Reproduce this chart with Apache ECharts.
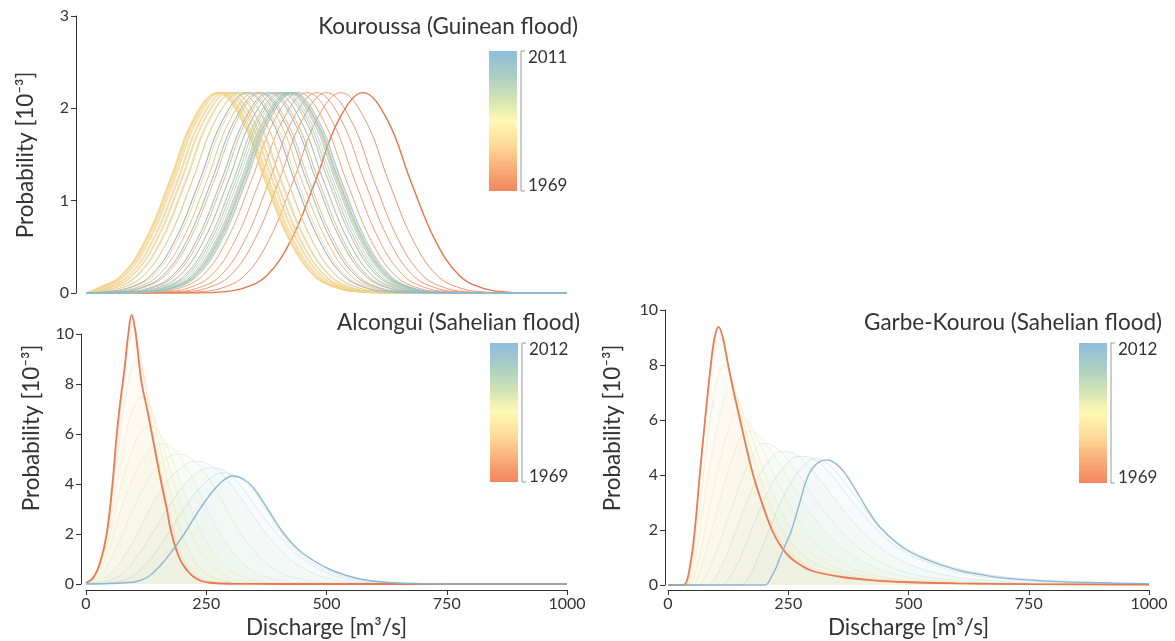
<!DOCTYPE html>
<html lang="en">
<head>
<meta charset="UTF-8">
<title>Flood discharge distributions</title>
<script src="https://cdn.jsdelivr.net/npm/echarts@6.0.0/dist/echarts.min.js"></script>
<style>
  html,body{margin:0;padding:0;background:#fff;}
  #chart{width:1175px;height:641px;}
</style>
</head>
<body>
<div id="chart"></div>
<script>
// ---- Kouroussa: every year has the same bell shape, only the peak moves
// offsets from the peak (m3/s) and probability
let kouOffsets=[-700,-600,-500,-400,-300,-200,-100,0,100,200,300,400,500,600,700];
let kouProfile=[0,0.01,0.05,0.19,0.57,1.2,1.88,2.17,1.88,1.2,0.57,0.19,0.05,0.01,0];
// peak discharge per year, 1969 -> 2011
let kouPeaks=[1152,1060,1000,960,920,885,850,810,770,730,700,
              670,640,615,595,580,565,555,548,545,550,
              560,575,590,610,640,680,720,760,790,810,
              830,845,855,862,865,855,840,820,790,760,
              720,670];
let kouFirst=1969, kouLast=2011;

// ---- Alcongui curves [discharge, probability 10^-3]
let alc1969=[[0,0.05],[15,0.25],[30,0.9],[43,2],[55,4],[64,6],[72,7.4],[80,8.6],[88,10],[95,10.76],[102,10.2],[110,8.9],[116,8],[127,7],[137,6],[147,5],[157,4],[168,3],[178,2],[195,1],[210,0.55],[223,0.3],[240,0.12],[257,0.05],[300,0.01],[400,0],[1000,0]];
let alc1984=[[0,0.05],[15,0.25],[30,0.9],[45,2.2],[60,4.6],[75,7.4],[90,9.7],[100,10.1],[110,9.4],[122,8.1],[137,6.3],[157,4.3],[178,2.4],[200,1.1],[225,0.4],[260,0.1],[320,0.02],[1000,0]];
let alc1988=[[0,0.05],[15,0.25],[30,0.9],[45,2.2],[60,4.3],[80,7.2],[95,8.6],[108,9.0],[120,8.4],[135,7.0],[150,5.8],[170,4.1],[190,2.6],[215,1.3],[245,0.5],[290,0.12],[350,0.02],[1000,0]];
let alc1991=[[0,0.05],[15,0.25],[30,0.85],[45,2.0],[65,4.1],[85,6.2],[105,7.3],[120,7.5],[135,7.1],[150,6.2],[170,4.9],[195,3.3],[220,2.0],[250,1.0],[290,0.35],[340,0.08],[420,0.01],[1000,0]];
let alc1994=[[0,0.05],[15,0.25],[30,0.8],[50,2.0],[70,3.7],[95,5.3],[115,6.1],[135,6.3],[155,6.0],[175,5.2],[200,3.9],[230,2.5],[260,1.4],[300,0.55],[350,0.15],[420,0.03],[1000,0]];
let alc1997=[[0,0.04],[20,0.3],[40,1.0],[65,2.5],[90,3.9],[115,4.9],[140,5.45],[160,5.6],[180,5.45],[205,4.8],[235,3.7],[265,2.5],[300,1.4],[340,0.6],[390,0.2],[460,0.04],[1000,0]];
let alc2000=[[0,0.03],[25,0.25],[50,0.9],[80,2.2],[110,3.5],[140,4.5],[165,5.0],[190,5.2],[215,5.05],[245,4.5],[275,3.6],[310,2.4],[350,1.3],[400,0.5],[460,0.15],[530,0.03],[1000,0]];
let alc2003=[[0,0.02],[30,0.15],[60,0.6],[95,1.6],[130,2.9],[165,4.0],[195,4.6],[225,4.9],[255,4.8],[285,4.35],[320,3.5],[360,2.4],[400,1.45],[450,0.65],[510,0.2],[580,0.04],[1000,0]];
let alc2006=[[0,0.01],[40,0.1],[75,0.4],[110,1.2],[150,2.4],[190,3.6],[225,4.35],[258,4.65],[290,4.5],[325,3.85],[360,2.9],[400,1.95],[445,1.1],[500,0.45],[560,0.13],[630,0.03],[1000,0]];
let alc2009=[[0,0],[50,0.05],[85,0.2],[120,0.7],[160,1.7],[200,2.9],[240,3.9],[285,4.45],[315,4.3],[345,3.8],[375,2.95],[410,1.95],[450,1.15],[500,0.55],[560,0.2],[630,0.05],[700,0.01],[1000,0]];
let alc2012=[[0,0],[50,0.02],[80,0.05],[105,0.1],[130,0.3],[155,0.75],[180,1.35],[204,2],[230,2.8],[255,3.5],[280,4.05],[305,4.32],[327,4.2],[348,3.85],[376,3.05],[410,2.05],[440,1.4],[472,0.95],[505,0.6],[540,0.35],[570,0.2],[600,0.11],[640,0.05],[680,0.02],[750,0],[1000,0]];
let alcYears=[1969,1984,1988,1991,1994,1997,2000,2003,2006,2009,2012];
let alcCurves=[alc1969,alc1984,alc1988,alc1991,alc1994,alc1997,alc2000,alc2003,alc2006,alc2009,alc2012];

// ---- Garbe-Kourou curves
let gar1969=[[0,0],[30,0],[38,0.1],[45,0.6],[52,1.4],[58,2.4],[66,4],[77,6],[89,8],[97,9.0],[105,9.39],[114,9.0],[125,8],[137,7],[150,6],[163,5],[177,4],[195,3],[216,2],[235,1.4],[254,1],[278,0.7],[302,0.5],[358,0.3],[420,0.18],[500,0.1],[600,0.06],[750,0.03],[1000,0.01]];
let gar1984=[[0,0],[36,0],[44,0.5],[55,2.0],[67,4.1],[80,6.4],[93,8.2],[107,9.0],[120,8.4],[135,7.1],[150,5.9],[170,4.5],[195,3.1],[225,1.9],[260,1.1],[310,0.55],[380,0.28],[480,0.12],[600,0.06],[800,0.02],[1000,0.01]];
let gar1988=[[0,0],[38,0],[46,0.4],[58,1.8],[72,3.8],[87,5.9],[100,7.3],[115,8.0],[130,7.6],[145,6.7],[165,5.4],[190,4.0],[220,2.6],[255,1.55],[300,0.85],[370,0.38],[470,0.15],[600,0.06],[800,0.02],[1000,0.01]];
let gar1991=[[0,0],[40,0],[50,0.4],[64,1.7],[80,3.6],[97,5.3],[112,6.5],[125,7.0],[140,6.85],[158,6.2],[180,5.1],[205,3.9],[235,2.7],[270,1.7],[320,0.9],[390,0.4],[490,0.15],[620,0.06],[800,0.02],[1000,0.01]];
let gar1994=[[0,0],[44,0],[55,0.35],[72,1.6],[92,3.3],[112,4.8],[128,5.8],[140,6.2],[157,6.1],[178,5.6],[205,4.6],[235,3.5],[270,2.4],[310,1.5],[360,0.8],[430,0.35],[530,0.13],[680,0.05],[1000,0.01]];
let gar1997=[[0,0],[50,0],[62,0.3],[82,1.4],[105,2.9],[128,4.3],[147,5.2],[162,5.6],[180,5.55],[205,5.1],[235,4.3],[270,3.3],[310,2.3],[355,1.45],[410,0.8],[480,0.35],[580,0.13],[720,0.05],[1000,0.01]];
let gar2000=[[0,0],[60,0],[75,0.25],[100,1.2],[128,2.6],[155,3.9],[177,4.75],[195,5.15],[215,5.1],[240,4.75],[270,4.05],[305,3.15],[345,2.25],[390,1.45],[445,0.8],[520,0.35],[620,0.14],[760,0.05],[1000,0.02]];
let gar2003=[[0,0],[80,0],[96,0.2],[122,1.1],[150,2.4],[178,3.6],[205,4.4],[235,4.85],[258,4.8],[285,4.45],[315,3.85],[350,3.05],[390,2.2],[435,1.45],[490,0.85],[560,0.42],[660,0.17],[800,0.07],[1000,0.03]];
let gar2006=[[0,0],[110,0],[125,0.2],[150,1.0],[178,2.2],[205,3.3],[235,4.15],[272,4.68],[300,4.6],[330,4.2],[360,3.55],[395,2.8],[435,2.0],[480,1.35],[540,0.82],[620,0.4],[720,0.19],[850,0.09],[1000,0.04]];
let gar2009=[[0,0],[150,0],[165,0.2],[185,0.9],[210,2.0],[235,3.05],[262,3.9],[285,4.4],[303,4.6],[325,4.5],[350,4.1],[380,3.45],[410,2.75],[445,2.0],[490,1.4],[550,0.9],[620,0.52],[720,0.26],[850,0.12],[1000,0.05]];
let gar2012=[[0,0],[200,0],[207,0.05],[215,0.3],[224,0.6],[233,1],[245,1.5],[257,2],[274,3],[292,4],[310,4.42],[331,4.55],[348,4.42],[364,4.15],[380,3.75],[399,3.2],[420,2.6],[441,2.1],[485,1.4],[530,0.98],[600,0.55],[650,0.38],[700,0.25],[800,0.13],[900,0.08],[1000,0.05]];
let garYears=[1969,1984,1988,1991,1994,1997,2000,2003,2006,2009,2012];
let garCurves=[gar1969,gar1984,gar1988,gar1991,gar1994,gar1997,gar2000,gar2003,gar2006,gar2009,gar2012];

// colour ramp, oldest -> newest
let barColors=['#f4855c','#f9ae77','#fddb9a','#fff9b3','#cfe3b3','#a9cdc6','#8fbddd'];
let lineColors=['#e8734b','#f09a66','#f4bf80','#f1d67e','#c9dca4','#9fc7bf','#88b3d0'];

let FONT='Lato, "Open Sans", sans-serif';
let TXT='#333';

let chart=echarts.init(document.getElementById('chart'),null,{renderer:'canvas'});

function colorOf(year,y0,y1){
    return echarts.color.lerp((year-y0)/(y1-y0),lineColors);
}

let series=[];

// Kouroussa
kouPeaks.forEach(function(pk,i){
    let yr=kouFirst+i;
    let pts=kouOffsets.map(function(o,j){return [pk+o,kouProfile[j]];})
        .filter(function(p){return p[0]>=0&&p[0]<=2000;});
    pts.unshift([0,0]);
    pts.push([2000,0]);
    series.push({
        type:'line',xAxisIndex:0,yAxisIndex:0,
        data:pts,smooth:0.4,showSymbol:false,silent:true,
        lineStyle:{width:yr===kouFirst?1.4:1,color:colorOf(yr,kouFirst,kouLast),opacity:yr===kouFirst?1:0.8}
    });
});

// Sahelian stations
function addPanel(curves,years,idx){
    let y0=years[0],y1=years[years.length-1];
    curves.forEach(function(c,i){
        let yr=years[i];
        let edge=(yr===y0||yr===y1);
        series.push({
            type:'line',xAxisIndex:idx,yAxisIndex:idx,
            data:c,smooth:0.4,showSymbol:false,silent:true,clip:false,
            z:edge?5:2,
            lineStyle:{width:edge?(yr===y0?1.8:1.4):0.8,color:colorOf(yr,y0,y1),opacity:edge?0.95:0.4},
            areaStyle:edge?null:{color:colorOf(yr,y0,y1),opacity:0.035}
        });
    });
}
addPanel(alcCurves,alcYears,1);
addPanel(garCurves,garYears,2);

function yAx(grid,max,interval,offset){
    return {
        type:'value',gridIndex:grid,min:0,max:max,interval:interval,offset:offset,
        axisLine:{show:true,onZero:false,lineStyle:{color:TXT,width:1}},
        axisTick:{show:true,length:5,lineStyle:{color:TXT}},
        axisLabel:{color:TXT,fontSize:16,fontFamily:FONT,margin:7},
        splitLine:{show:false}
    };
}
function xAx(grid,offset){
    return {
        type:'value',gridIndex:grid,min:0,max:1000,interval:250,offset:offset,
        name:'Discharge [m³/s]',nameLocation:'middle',nameGap:26,
        nameTextStyle:{color:TXT,fontSize:22.5,fontFamily:FONT},
        axisLine:{show:true,onZero:false,lineStyle:{color:TXT,width:1}},
        axisTick:{show:true,length:5,lineStyle:{color:TXT}},
        axisLabel:{color:TXT,fontSize:16,fontFamily:FONT,margin:6,formatter:function(v){return String(v);}},
        splitLine:{show:false}
    };
}

function colorbar(x,top,bottom,topLabel,botLabel){
    let stops=barColors.map(function(c,i){return {offset:i/(barColors.length-1),color:c};});
    return [
        {type:'rect',shape:{x:x,y:top,width:28,height:bottom-top},
         style:{fill:new echarts.graphic.LinearGradient(0,1,0,0,stops)},silent:true},
        {type:'polyline',shape:{points:[[x+36,top],[x+32,top],[x+32,bottom],[x+36,bottom]]},
         style:{stroke:'#999',lineWidth:1,fill:null},silent:true},
        {type:'text',x:x+39,y:top+7,style:{text:topLabel,fill:TXT,font:'17px '+FONT,align:'left',verticalAlign:'middle'}},
        {type:'text',x:x+39,y:bottom-5,style:{text:botLabel,fill:TXT,font:'17px '+FONT,align:'left',verticalAlign:'middle'}}
    ];
}
function title(text,x,y){
    return {type:'text',x:x,y:y,style:{text:text,fill:TXT,font:'22.5px '+FONT,align:'right',verticalAlign:'middle'}};
}
function yName(x,y){
    return {type:'text',x:x,y:y,rotation:Math.PI/2,
        style:{text:'Probability [10⁻³]',fill:TXT,font:'22.5px '+FONT,align:'center',verticalAlign:'middle'}};
}

let graphics=[]
    .concat([title('Kouroussa (Guinean flood)',578,27),
             title('Alcongui (Sahelian flood)',580,323),
             title('Garbe-Kourou (Sahelian flood)',1162,323)])
    .concat(colorbar(489,51,191,'2011','1969'))
    .concat(colorbar(490,343,482,'2012','1969'))
    .concat(colorbar(1079,343,483,'2012','1969'))
    .concat([yName(26,155),yName(32,428),yName(613,428)]);

chart.setOption({
    animation:false,
    backgroundColor:'#fff',
    textStyle:{fontFamily:FONT},
    grid:[
        {left:86,top:16,width:481,height:277,outerBoundsMode:'none'},
        {left:86,top:334,width:481,height:250,outerBoundsMode:'none'},
        {left:668,top:310,width:481,height:275,outerBoundsMode:'none'}
    ],
    xAxis:[
        {type:'value',gridIndex:0,min:0,max:2000,show:false},
        xAx(1,6),
        xAx(2,5)
    ],
    yAxis:[
        yAx(0,3,1,10),
        yAx(1,10,2,5),
        yAx(2,10,2,3)
    ],
    graphic:graphics,
    series:series
});
</script>
</body>
</html>
